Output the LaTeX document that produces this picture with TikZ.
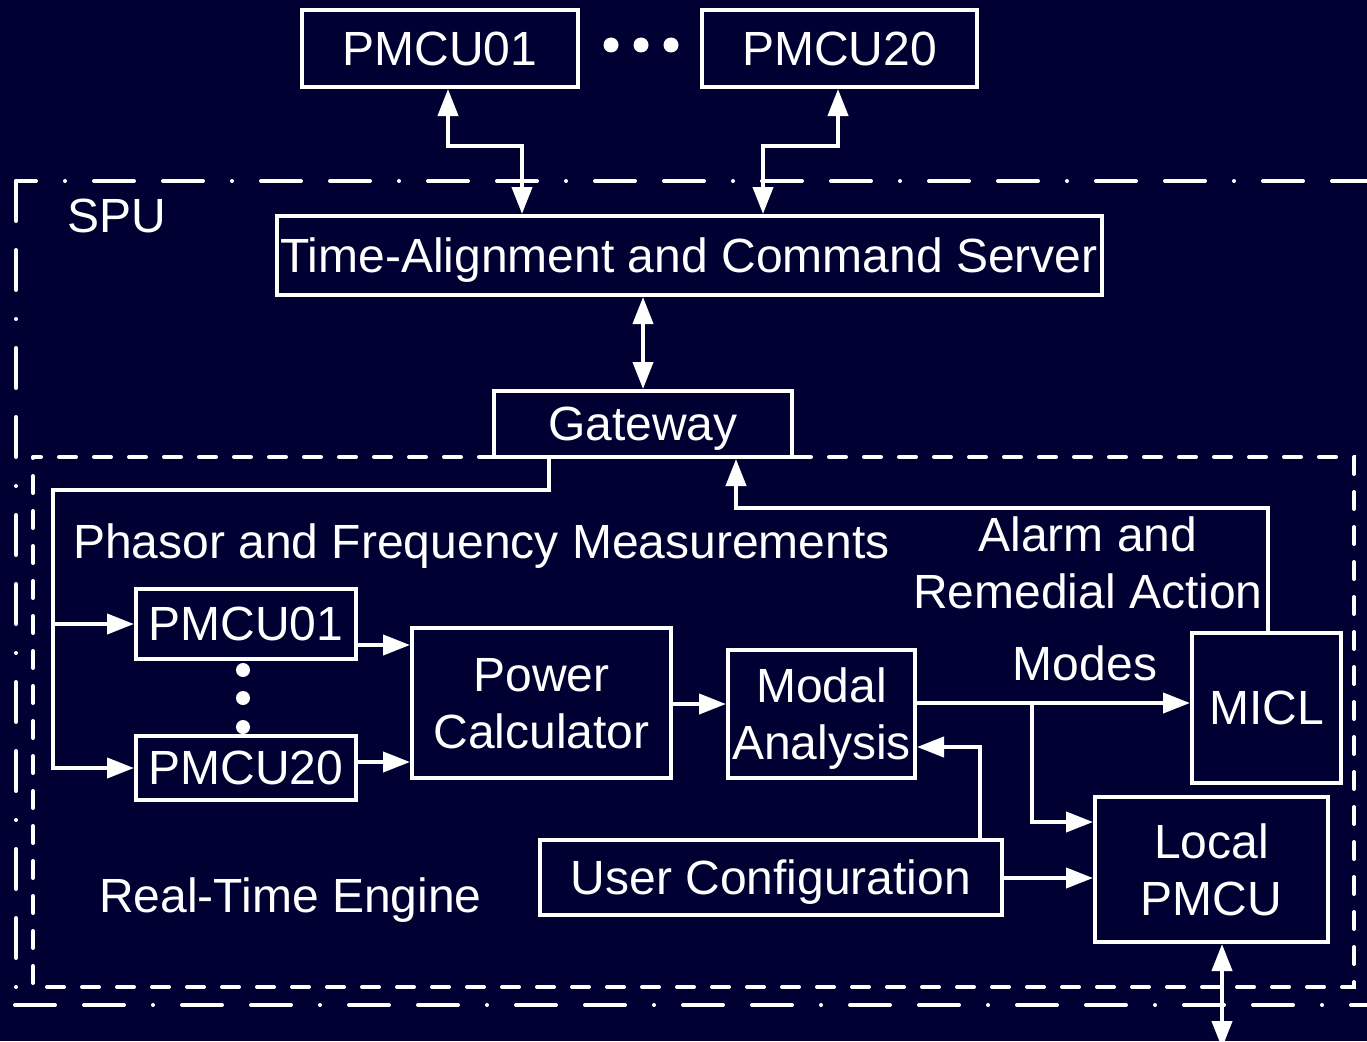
\documentclass[tikz,border=0pt]{standalone}
\usepackage{fontspec}
\setmainfont{Liberation Sans}
\usetikzlibrary{arrows.meta}
\definecolor{navybg}{RGB}{1,0,50}
\begin{document}
\begin{tikzpicture}[x=1pt,y=-1pt,
  every node/.style={text=white,font=\fontsize{48}{57}\selectfont},
  box/.style={draw=white,line width=4pt,inner sep=0pt,align=center,text depth=0pt},
  lbl/.style={inner sep=0pt},
  conn/.style={draw=white,line width=4pt},
  arr/.style={conn,-{Triangle[length=27pt,width=20pt]}},
  darr/.style={conn,{Triangle[length=27pt,width=20pt]}-{Triangle[length=27pt,width=20pt]}},
  spuline/.style={draw=white,line width=4pt,line cap=round,dash pattern=on 40pt off 29pt on 40pt off 29pt on 0pt off 29pt},
  rteline/.style={draw=white,line width=4pt,line cap=round,dash pattern=on 17pt off 18pt},
  dotmark/.style={fill=white}
]
\useasboundingbox (0,0) rectangle (1367,1041);
\fill[navybg] (0,0) rectangle (1367,1041);

% enclosures
\draw[spuline,dash phase=89pt] (16,181) -- (1385,181);
\draw[spuline] (16,181) -- (16,1005);
\draw[spuline] (15,1005) -- (1385,1005);
\draw[rteline,dash phase=9pt] (33,457) -- (1354,457) -- (1354,987) -- (33,987) -- cycle;

% boxes
\node[box,minimum width=276pt,minimum height=77pt] (pmA) at (440,48.5) {PMCU01};
\node[box,minimum width=275pt,minimum height=77pt] (pmB) at (839.5,48.5) {PMCU20};
\node[box,minimum width=825pt,minimum height=79pt] (tacs) at (689,255.5) {Time-Alignment and Command Server};
\node[box,minimum width=298.5pt,minimum height=66pt] (gw) at (642.75,424) {Gateway};
\node[box,minimum width=220pt,minimum height=70pt] (pm1) at (246,624) {PMCU01};
\node[box,minimum width=220pt,minimum height=64pt] (pm20) at (246,768) {PMCU20};
\node[box,minimum width=259pt,minimum height=150pt] (pc) at (541.5,703) {Power\\Calculator};
\node[box,minimum width=187pt,minimum height=128pt] (ma) at (821.5,714) {Modal\\Analysis};
\node[box,minimum width=149pt,minimum height=150pt] (micl) at (1266.5,708) {MICL};
\node[box,minimum width=233pt,minimum height=145pt] (lp) at (1211.5,869.5) {Local\\PMCU};
\node[box,minimum width=462pt,minimum height=75pt] (uc) at (771,877.5) {User Configuration};

% labels
\node[lbl,anchor=base west] (spu) at (67,232) {SPU};
\node[lbl,anchor=base west] (phasor) at (73,558) {Phasor and Frequency Measurements};
\node[lbl,anchor=base west] (rte) at (99,912) {Real-Time Engine};
\node[lbl,anchor=base] (alarm1) at (1088,551) {Alarm and};
\node[lbl,anchor=base] (alarm2) at (1088,608) {Remedial Action};
\node[lbl,anchor=base] (modes) at (1085,680) {Modes};

% ellipsis dots
\fill[dotmark] (611,45) circle (7.5pt) (641,45) circle (7.5pt) (671,45) circle (7.5pt);
\fill[dotmark] (243,670) circle (7pt) (243,698) circle (7pt) (243,727) circle (7pt);

% connectors
\draw[darr] (pmA.south -| 448,0) |- (522,146) -- (tacs.north -| 522,0);
\draw[darr] (pmB.south -| 838,0) |- (763,146) -- (tacs.north -| 763,0);
\draw[darr] (tacs.south -| 643,0) -- (gw.north -| 643,0);
\draw[arr] (gw.south -| 549,0) |- (53,490) |- (pm20.west);
\draw[arr] (pm1.west -| 53,0) -- (pm1.west);
\draw[arr] (pm1.east |- 0,645) -- (pc.west |- 0,645);
\draw[arr] (pm20.east |- 0,762) -- (pc.west |- 0,762);
\draw[arr] (pc.east |- 0,704) -- (ma.west |- 0,704);
\draw[arr] (ma.east |- 0,703) -- (micl.west |- 0,703);
\coordinate (jm) at (1032,703);
\draw[arr] (jm) |- (lp.west |- 0,822);
\draw[arr] (uc.east |- 0,878) -- (lp.west |- 0,878);
\draw[arr] (uc.north -| 980,0) |- (ma.east |- 0,747);
\draw[arr] (micl.north -| 1268,0) |- (736,508) -- (gw.south -| 736,0);
\coordinate (lpout) at (1222,1048);
\draw[darr] (lp.south -| 1222,0) -- (lpout);
\end{tikzpicture}
\end{document}
